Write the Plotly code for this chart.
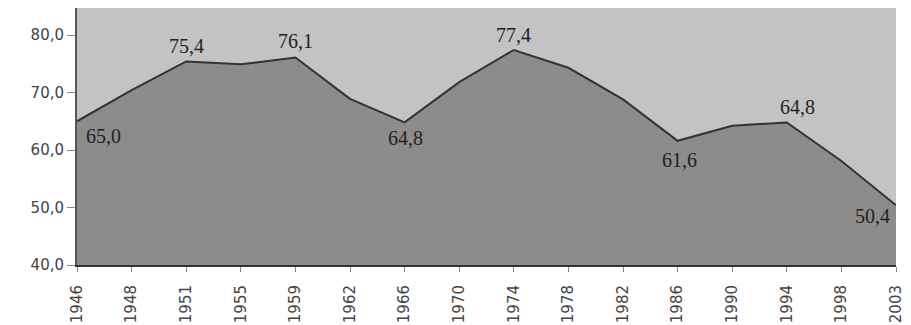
import plotly.graph_objects as go

years = ["1946", "1948", "1951", "1955", "1959", "1962", "1966", "1970",
         "1974", "1978", "1982", "1986", "1990", "1994", "1998", "2003"]
values = [65.0, 70.4, 75.4, 74.9, 76.1, 68.9, 64.8, 71.8,
          77.4, 74.3, 68.8, 61.6, 64.2, 64.8, 58.1, 50.4]
labeled_years = ["1946", "1951", "1959", "1966", "1974", "1986", "1994", "2003"]
y_ticks = [40, 50, 60, 70, 80]

# label placement (style): (xshift, yshift, xanchor)
placement = {
    "1946": (7, -15, "left"),
    "1951": (0, 15, "center"),
    "1959": (0, 16, "center"),
    "1966": (1, -16, "center"),
    "1974": (0, 15, "center"),
    "1986": (2, -19, "center"),
    "1994": (11, 15, "center"),
    "2003": (-4, -11, "right"),
}

fig = go.Figure()
fig.add_trace(go.Scatter(
    x=years, y=values, mode="lines", fill="tozeroy",
    fillcolor="#8c8c8c", line=dict(color="#333333", width=2),
    hoverinfo="skip", showlegend=False,
))

for yr in labeled_years:
    i = years.index(yr)
    v = values[i]
    dx, dy, xa = placement[yr]
    fig.add_annotation(
        x=i, y=v, xref="x", yref="y",
        text=f"{v:.1f}".replace(".", ","), showarrow=False,
        xshift=dx, yshift=dy, xanchor=xa, yanchor="middle",
        font=dict(family="Liberation Serif", size=20, color="#222222"),
    )

fig.update_layout(
    width=911, height=325,
    margin=dict(l=77, r=15, t=8, b=60),
    paper_bgcolor="white", plot_bgcolor="#c3c3c3",
    separators=",.",
    showlegend=False,
)
fig.update_xaxes(
    type="category", range=[0, len(years) - 1], automargin=False,
    showgrid=False, zeroline=False,
    showline=True, linecolor="#333333", linewidth=2,
    ticks="outside", ticklen=5, tickcolor="#888888", tickwidth=1,
    tickangle=-90, ticklabelstandoff=7,
    tickfont=dict(family="DejaVu Sans", size=15, color="#444444"),
)
fig.update_yaxes(
    range=[40, 84.7], tickvals=y_ticks, tickformat=".1f", automargin=False,
    showgrid=False, zeroline=False,
    showline=True, linecolor="#555555", linewidth=2,
    ticks="outside", ticklen=8, tickcolor="#888888", tickwidth=1,
    tickfont=dict(family="DejaVu Sans", size=15, color="#444444"),
)

fig.write_html("out.html")
